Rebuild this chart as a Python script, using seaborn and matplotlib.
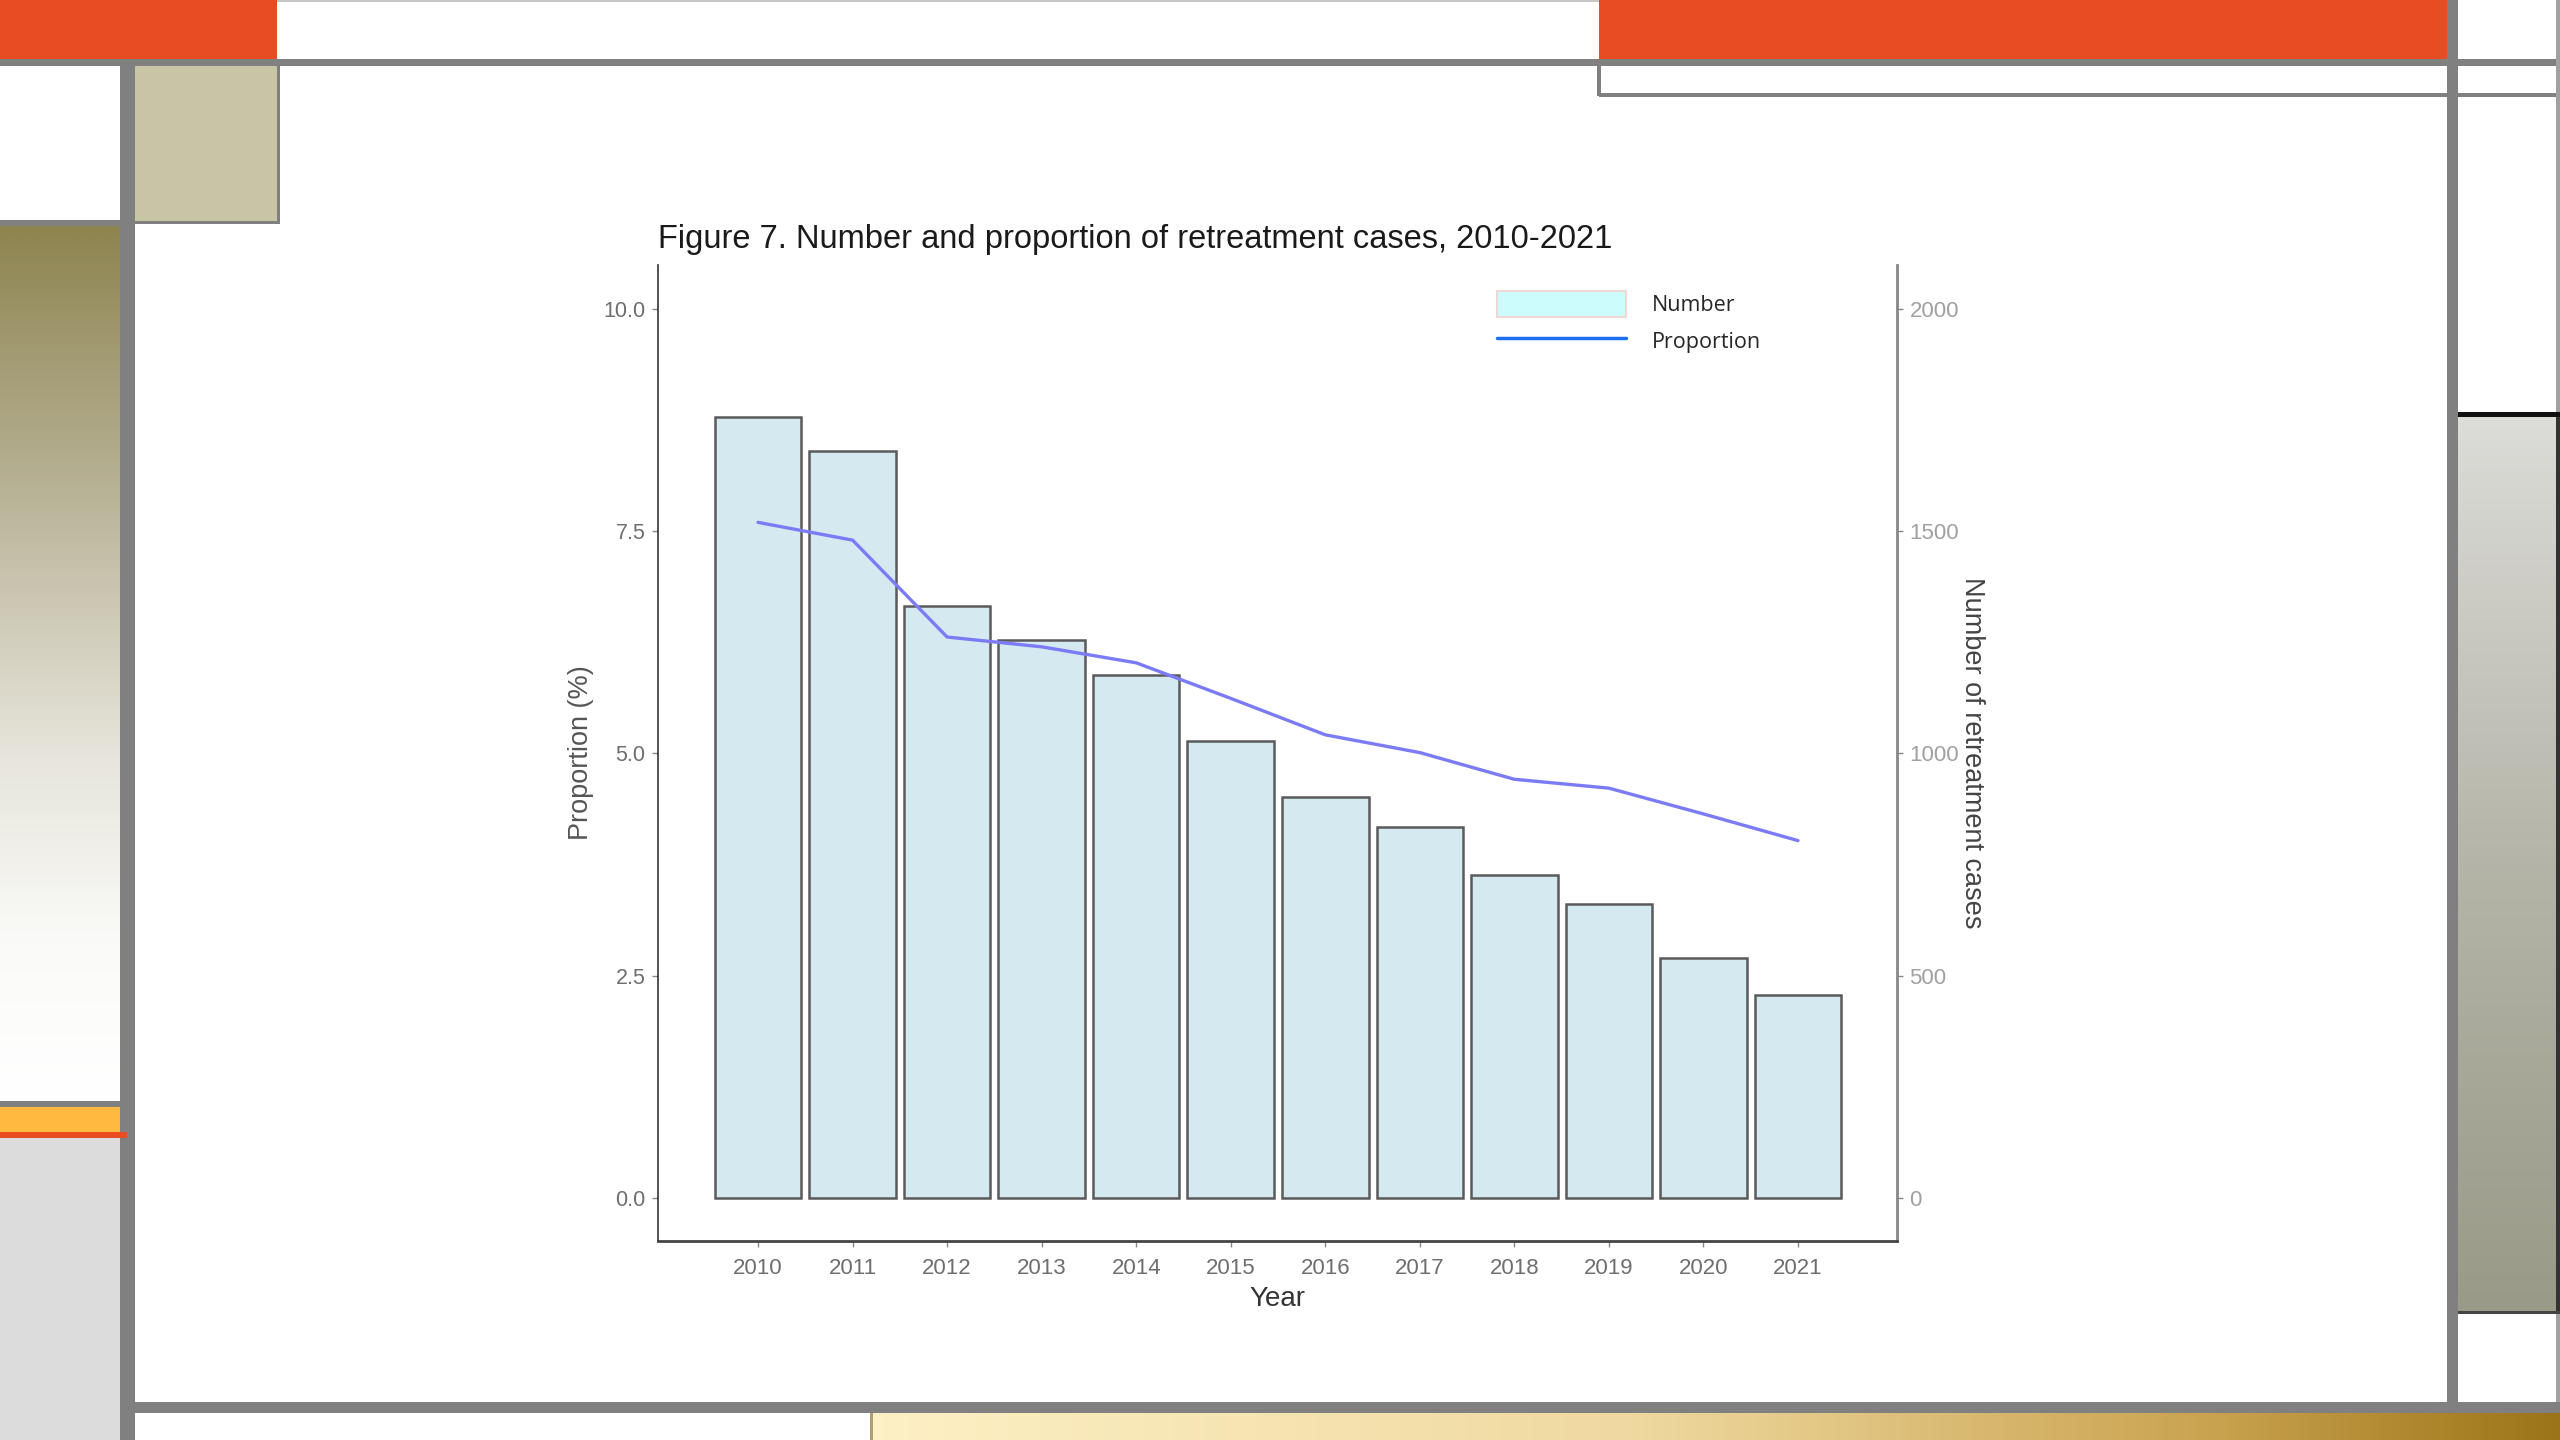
import numpy as np
import pandas as pd
import seaborn as sns
import matplotlib.pyplot as plt
from matplotlib.patches import Rectangle, Patch
from matplotlib.lines import Line2D
from matplotlib.colors import LinearSegmentedColormap

# data
years = ['2010', '2011', '2012', '2013', '2014', '2015',
         '2016', '2017', '2018', '2019', '2020', '2021']
cases = [1758, 1681, 1332, 1255, 1177, 1028, 902, 835, 727, 661, 540, 457]
proportion = [7.60, 7.40, 6.31, 6.20, 6.02, 5.62, 5.21, 5.01, 4.71, 4.61, 4.32, 4.02]

df = pd.DataFrame({'Year': years, 'Number': cases, 'Proportion': proportion})

sns.set_theme(style='white')
plt.rcParams['font.family'] = ['Liberation Sans', 'DejaVu Sans']

fig = plt.figure(figsize=(25.6, 14.4), dpi=100)
fig.patch.set_facecolor('white')

# slide decoration, drawn in pixel coords on a background axes
bg = fig.add_axes([0, 0, 1, 1])
bg.set_zorder(-5)
bg.axis('off')


def box(x0, y0, x1, y1, c):
    bg.add_patch(Rectangle((x0, y0), x1 - x0, y1 - y0, facecolor=c, edgecolor='none'))


def grad(x0, y0, x1, y1, colors, vertical=True):
    cmap = LinearSegmentedColormap.from_list('g', colors)
    g = np.linspace(0, 1, 256)
    img = g[:, None] if vertical else g[None, :]
    bg.imshow(img, cmap=cmap, extent=(x0, x1, y1, y0), aspect='auto',
              interpolation='bilinear')


grey = '#808080'
orange = '#E84C22'
box(277, 0, 1599, 2, '#C8C8C8')
box(0, 0, 277, 59, orange)
box(1599, 0, 2447, 60, orange)
box(0, 59, 2560, 66, grey)
box(120, 59, 135, 1440, grey)
box(135, 66, 277, 221, '#C8C4A6')
box(277, 66, 280, 224, grey)
box(135, 221, 280, 224, grey)
box(0, 220, 120, 226, grey)
grad(0, 226, 120, 1101, [(0, '#8E8450'), (0.3, '#B8B296'), (0.6, '#E6E4DA'),
                         (0.82, '#FAFAF8'), (1, '#FFFFFF')])
box(0, 1101, 120, 1107, grey)
box(0, 1107, 120, 1132, '#FFB840')
box(0, 1132, 127, 1138, orange)
box(0, 1138, 120, 1440, '#DCDCDC')
box(135, 1402, 2560, 1413, grey)
grad(873, 1413, 2560, 1440, [(0, '#FDF0C4'), (0.45, '#EFD9A0'),
                             (0.8, '#C9A24E'), (1, '#9C7418')], vertical=False)
box(870, 1413, 873, 1440, '#B0A070')
box(2447, 0, 2458, 1402, grey)
box(1597, 60, 1601, 96, grey)
box(1599, 93, 2560, 97, grey)
box(2556, 0, 2560, 1402, '#A0A0A0')
box(2458, 412, 2560, 417, '#111111')
grad(2458, 417, 2556, 1312, ['#DCDCD8', '#B4B4A8', '#9A9A88'])
box(2556, 417, 2560, 1314, '#333333')
box(2458, 1311, 2560, 1314, '#444444')
bg.set_xlim(0, 2560)
bg.set_ylim(1440, 0)

# main chart
ax = fig.add_axes([658 / 2560, 1 - 1241 / 1440, 1239 / 2560, 976 / 1440])
ax2 = ax.twinx()

sns.barplot(data=df, x='Year', y='Number', ax=ax2, color='#D5EAF0',
            edgecolor='#5A5A5A', linewidth=1.8, width=0.915, saturation=1)
sns.pointplot(data=df, x='Year', y='Proportion', ax=ax, color='#7B7BF6',
              markers='', linewidth=2.4, errorbar=None)

ax.set_zorder(ax2.get_zorder() + 1)
ax.patch.set_visible(False)
ax2.patch.set_visible(False)

ax.set_xlim(-1.058, 12.047)
ax.set_ylim(-0.484, 10.495)
ax2.set_ylim(-96.8, 2099)
ax.set_yticks([0, 2.5, 5, 7.5, 10])
ax.set_yticklabels(['0.0', '2.5', '5.0', '7.5', '10.0'])
ax2.set_yticks([0, 500, 1000, 1500, 2000])

ax.tick_params(axis='y', length=4, width=1, color='#888888', labelsize=15.5,
               labelcolor='#6E6E6E', left=True, pad=5)
ax.tick_params(axis='x', length=4, width=1, color='#888888', labelsize=16,
               labelcolor='#6E6E6E', bottom=True, pad=8)
ax2.tick_params(axis='y', right=True, length=4, width=1, color='#888888',
                labelsize=16, labelcolor='#A0A0A0', pad=5)

ax.spines['top'].set_visible(False)
ax.spines['right'].set_visible(False)
ax.spines['left'].set_color('#333333')
ax.spines['left'].set_linewidth(1.2)
ax.spines['bottom'].set_color('#444444')
ax.spines['bottom'].set_linewidth(2)
for s in ['top', 'left', 'bottom']:
    ax2.spines[s].set_visible(False)
ax2.spines['right'].set_color('#888888')
ax2.spines['right'].set_linewidth(2)

ax.set_xlabel('Year', fontsize=20, color='#333333', labelpad=5)
ax.set_ylabel('Proportion (%)', fontsize=19.5, color='#555555', labelpad=7)
ax2.set_ylabel('Number of retreatment cases', fontsize=19.5, color='#444444',
               rotation=270, va='bottom', labelpad=0)
ax.set_title('Figure 7. Number and proportion of retreatment cases, 2010-2021',
             loc='left', fontsize=23.5, color='#1A1A1A', pad=12)

handles = [Patch(facecolor='#CCFCFC', edgecolor='#F0D8D4', linewidth=1.5),
           Line2D([], [], color='#1F6FF2', linewidth=2.5)]
leg = ax.legend(handles, ['Number', 'Proportion'], loc='upper left',
                bbox_to_anchor=(1497 / 2560, 1 - 291 / 1440),
                bbox_transform=fig.transFigure, frameon=False,
                prop={'family': 'Open Sans', 'size': 15.5},
                handlelength=6.0, handleheight=1.5, handletextpad=1.2,
                labelspacing=0.5, borderpad=0, borderaxespad=0)

fig.savefig('out.png', dpi=100)
